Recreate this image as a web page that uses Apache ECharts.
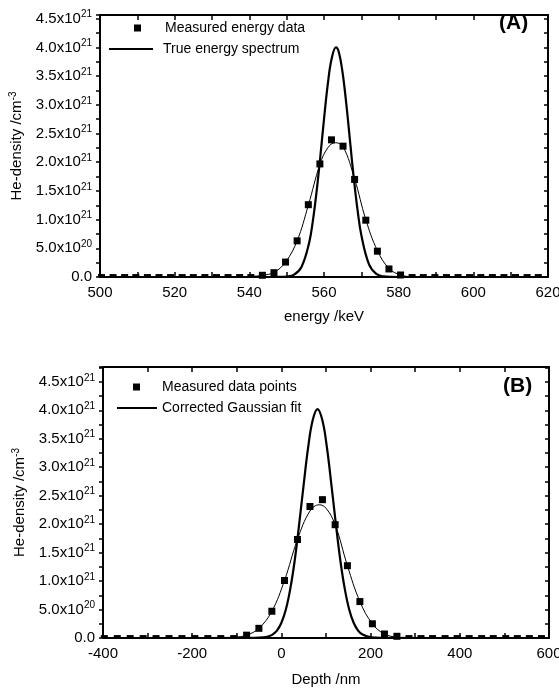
<!DOCTYPE html>
<html>
<head>
<meta charset="utf-8">
<script src="https://cdn.jsdelivr.net/npm/echarts@6/dist/echarts.min.js"></script>
<style>
  html, body { margin: 0; padding: 0; background: #fff; }
  #chart { width: 559px; height: 689px; }
</style>
</head>
<body>
<div id="chart"></div>
<script>
// values in units of 1e21 cm^-3

// panel A : energy spectrum
var energyMeas = [500.4, 503.5, 506.6, 509.6, 512.7, 515.8, 518.9, 522.0, 525.0, 528.1, 531.2, 534.3, 537.4,
    540.4, 543.5, 546.6, 549.7, 552.8, 555.8, 558.9, 562.0, 565.1, 568.2, 571.2, 574.3, 577.4, 580.5,
    583.6, 586.6, 589.7, 592.8, 595.9, 599.0, 602.0, 605.1, 608.2, 611.3, 614.4, 617.4];
var densityMeasA = [0.025, 0.025, 0.025, 0.025, 0.025, 0.025, 0.025, 0.025, 0.025, 0.025, 0.025, 0.025, 0.025,
    0.025, 0.03, 0.075, 0.26, 0.63, 1.26, 1.97, 2.39, 2.28, 1.70, 0.99, 0.45, 0.14, 0.035,
    0.025, 0.025, 0.025, 0.025, 0.025, 0.025, 0.025, 0.025, 0.025, 0.025, 0.025, 0.025];

var energyFit = [534.3, 537.4, 540.4, 543.5, 546.6, 549.7, 552.8, 555.8, 558.9, 561, 563, 565.1, 568.2, 571.2, 574.3, 577.4, 580.5, 583.6, 586.6];
var densityFitA = [0, 0.003, 0.01, 0.03, 0.08, 0.26, 0.63, 1.25, 1.96, 2.25, 2.34, 2.27, 1.71, 1.0, 0.46, 0.15, 0.035, 0.005, 0];

var energyTrue = [500, 546, 548, 550, 552, 554, 556, 557, 558, 559, 560, 561, 562, 563.2, 564, 565, 566, 567, 568, 569, 570, 572, 574, 576, 578, 580, 620];
var densityTrueA = [0, 0, 0.001, 0.007, 0.04, 0.178, 0.59, 0.97, 1.48, 2.09, 2.75, 3.35, 3.79, 4.0, 3.91, 3.55, 3.0, 2.35, 1.71, 1.16, 0.73, 0.23, 0.055, 0.01, 0.001, 0, 0];

// panel B : depth profile
var depthMeas = [-397, -368, -339, -310, -281, -252, -223, -194, -165, -136, -107,
    -78, -50.5, -21.4, 6.9, 36, 64, 92, 120.5, 148, 176, 204, 231, 259,
    286, 313, 339, 367, 394, 421, 449, 475, 503, 529, 556, 583];
var densityMeasB = [0.025, 0.025, 0.025, 0.025, 0.025, 0.025, 0.025, 0.025, 0.025, 0.025, 0.025,
    0.05, 0.17, 0.47, 1.01, 1.73, 2.31, 2.43, 1.99, 1.27, 0.64, 0.25, 0.07, 0.03,
    0.025, 0.025, 0.025, 0.025, 0.025, 0.025, 0.025, 0.025, 0.025, 0.025, 0.025, 0.025];

var depthFit = [-136, -107, -78, -50.5, -21.4, 6.9, 36, 64, 85, 100, 120.5, 148, 176, 204, 231, 259, 286];
var densityFitB = [0, 0.01, 0.05, 0.17, 0.47, 1.01, 1.73, 2.23, 2.34, 2.28, 1.99, 1.27, 0.64, 0.25, 0.07, 0.015, 0];

var depthGauss = [-400, -60, -40, -30, -20, -10, 0, 10, 20, 30, 40, 50, 60, 70, 81, 92, 102, 112, 122, 132, 142, 152, 162, 172, 182, 202, 222, 600];
var densityGaussB = [0, 0.001, 0.0095, 0.025, 0.06, 0.13, 0.268, 0.50, 0.867, 1.37, 2.01, 2.70, 3.35, 3.82, 4.02, 3.82, 3.35, 2.70, 2.01, 1.37, 0.867, 0.50, 0.268, 0.13, 0.06, 0.0095, 0.001, 0];

function pairs(xs, ys) {
    var out = [];
    for (var i = 0; i < xs.length; i++) out.push([xs[i], ys[i]]);
    return out;
}

var FONT = '"Liberation Sans", Arial, sans-serif';

function yLabel(v) {
    if (v === 0) return '{b|0.0}';
    if (v < 0.99) return '{b|' + (v * 10).toFixed(1) + 'x10}{s|20}';
    return '{b|' + v.toFixed(1) + 'x10}{s|21}';
}

var richSup = {
    b: { fontSize: 15, fontFamily: FONT, color: '#000', lineHeight: 18 },
    s: { fontSize: 10, fontFamily: FONT, color: '#000', verticalAlign: 'top', lineHeight: 18 }
};

function bottomAxis(idx, min, max, interval, name, gap) {
    return {
        type: 'value', gridIndex: idx, position: 'bottom', min: min, max: max, interval: interval,
        name: name, nameLocation: 'middle', nameGap: gap,
        nameTextStyle: { fontSize: 15, fontFamily: FONT, color: '#000' },
        axisLine: { onZero: false, lineStyle: { color: '#000', width: 2 } },
        axisTick: { inside: true, length: 5, lineStyle: { color: '#000', width: 1.5 } },
        minorTick: { show: true, splitNumber: 2, length: 5, lineStyle: { color: '#000', width: 1.5 } },
        axisLabel: { fontSize: 15, fontFamily: FONT, color: '#000', margin: 8 },
        splitLine: { show: false }
    };
}

function topAxis(idx, min, max, interval) {
    return {
        type: 'value', gridIndex: idx, position: 'top', min: min, max: max, interval: interval,
        axisLine: { onZero: false, lineStyle: { color: '#000', width: 2 } },
        axisTick: { inside: true, length: 5, lineStyle: { color: '#000', width: 1.5 } },
        minorTick: { show: true, splitNumber: 2, length: 5, lineStyle: { color: '#000', width: 1.5 } },
        axisLabel: { show: false },
        splitLine: { show: false }
    };
}

function leftAxis(idx, max) {
    return {
        type: 'value', gridIndex: idx, position: 'left', min: 0, max: max, interval: 0.5,
        name: '{b|He-density /cm}{s|-3}', nameLocation: 'middle', nameGap: 74,
        nameTextStyle: {
            rich: {
                b: { fontSize: 15, fontFamily: FONT, color: '#000', lineHeight: 18 },
                s: { fontSize: 10, fontFamily: FONT, color: '#000', verticalAlign: 'top', lineHeight: 18 }
            }
        },
        axisLine: { onZero: false, lineStyle: { color: '#000', width: 2 } },
        axisTick: { inside: false, length: 4, lineStyle: { color: '#000', width: 1.5 } },
        minorTick: { show: true, splitNumber: 2, length: 4, lineStyle: { color: '#000', width: 1.5 } },
        axisLabel: { formatter: yLabel, rich: richSup, margin: 8, showMaxLabel: false },
        splitLine: { show: false }
    };
}

function rightAxis(idx, max) {
    return {
        type: 'value', gridIndex: idx, position: 'right', min: 0, max: max, interval: 0.5,
        axisLine: { onZero: false, lineStyle: { color: '#000', width: 2 } },
        axisTick: { inside: true, length: 4, lineStyle: { color: '#000', width: 1.5 } },
        minorTick: { show: true, splitNumber: 2, length: 4, lineStyle: { color: '#000', width: 1.5 } },
        axisLabel: { show: false },
        splitLine: { show: false }
    };
}

function markSize(v) {
    return v[1] < 0.028 ? [7, 3] : 7;
}

var chart = echarts.init(document.getElementById('chart'));
chart.setOption({
    animation: false,
    backgroundColor: '#fff',
    title: [
        { text: '(A)', left: 499, top: 13, padding: 0, textStyle: { fontSize: 21, fontWeight: 'bold', fontFamily: FONT, color: '#000' } },
        { text: '(B)', left: 503, top: 376, padding: 0, textStyle: { fontSize: 21, fontWeight: 'bold', fontFamily: FONT, color: '#000' } }
    ],
    legend: [
        { data: [{ name: 'Measured energy data', icon: 'rect' }], left: 134, top: 20, padding: 0,
          itemWidth: 7, itemHeight: 7, textStyle: { fontSize: 14, fontFamily: FONT, color: '#000', padding: [0, 0, 0, 19], lineHeight: 16 } },
        { data: [{ name: 'True energy spectrum', icon: 'rect' }], left: 109, top: 41, padding: 0,
          itemWidth: 44, itemHeight: 2.2, textStyle: { fontSize: 14, fontFamily: FONT, color: '#000', padding: [0, 0, 0, 5], lineHeight: 16 } },
        { data: [{ name: 'Measured data points', icon: 'rect' }], left: 133, top: 379, padding: 0,
          itemWidth: 7, itemHeight: 7, textStyle: { fontSize: 14, fontFamily: FONT, color: '#000', padding: [0, 0, 0, 17], lineHeight: 16 } },
        { data: [{ name: 'Corrected Gaussian fit', icon: 'rect' }], left: 117, top: 400, padding: 0,
          itemWidth: 40, itemHeight: 2.2, textStyle: { fontSize: 14, fontFamily: FONT, color: '#000', padding: [0, 0, 0, 0], lineHeight: 16 } }
    ],
    grid: [
        { left: 100, top: 15, width: 448, height: 262, outerBoundsMode: 'none', containLabel: false },
        { left: 103, top: 367, width: 446, height: 271, outerBoundsMode: 'none', containLabel: false }
    ],
    xAxis: [
        bottomAxis(0, 500, 620, 20, 'energy /keV', 32),
        topAxis(0, 500, 620, 20),
        bottomAxis(1, -400, 600, 200, 'Depth /nm', 34),
        topAxis(1, -400, 600, 200)
    ],
    yAxis: [
        leftAxis(0, 4.565),
        rightAxis(0, 4.565),
        leftAxis(1, 4.76),
        rightAxis(1, 4.76)
    ],
    series: [
        { name: 'True energy spectrum', type: 'line', xAxisIndex: 0, yAxisIndex: 0, smooth: 0.4, showSymbol: false,
          data: pairs(energyTrue, densityTrueA), itemStyle: { color: '#000' }, lineStyle: { color: '#000', width: 2.2 }, z: 3 },
        { name: 'fitA', type: 'line', xAxisIndex: 0, yAxisIndex: 0, smooth: 0.4, showSymbol: false,
          data: pairs(energyFit, densityFitA), lineStyle: { color: '#000', width: 1 }, z: 3 },
        { name: 'Measured energy data', type: 'scatter', xAxisIndex: 0, yAxisIndex: 0, symbol: 'rect', symbolSize: markSize,
          data: pairs(energyMeas, densityMeasA), itemStyle: { color: '#000', opacity: 1 }, z: 4 },

        { name: 'Corrected Gaussian fit', type: 'line', xAxisIndex: 2, yAxisIndex: 2, smooth: 0.4, showSymbol: false,
          data: pairs(depthGauss, densityGaussB), itemStyle: { color: '#000' }, lineStyle: { color: '#000', width: 2.2 }, z: 3 },
        { name: 'fitB', type: 'line', xAxisIndex: 2, yAxisIndex: 2, smooth: 0.4, showSymbol: false,
          data: pairs(depthFit, densityFitB), lineStyle: { color: '#000', width: 1 }, z: 3 },
        { name: 'Measured data points', type: 'scatter', xAxisIndex: 2, yAxisIndex: 2, symbol: 'rect', symbolSize: markSize,
          data: pairs(depthMeas, densityMeasB), itemStyle: { color: '#000', opacity: 1 }, z: 4 }
    ]
});
</script>
</body>
</html>
